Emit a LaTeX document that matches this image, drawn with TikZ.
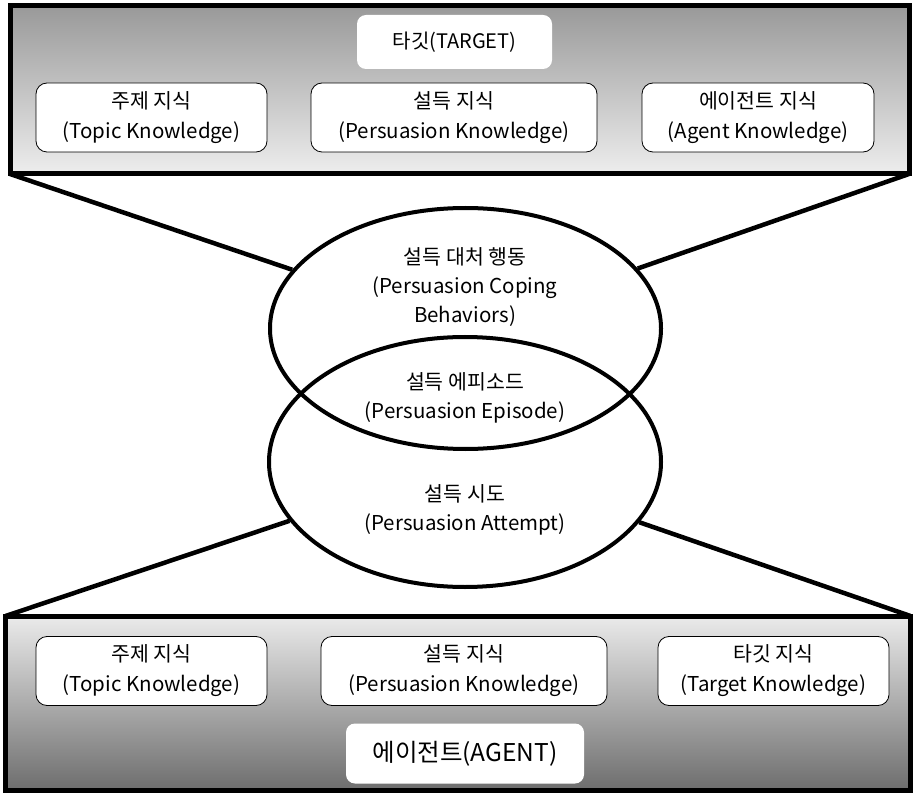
\documentclass[tikz,border=0pt]{standalone}
\usepackage{fontspec}
\setmainfont{Noto Sans CJK KR}
\usetikzlibrary{shapes.geometric}
\begin{document}
\begin{tikzpicture}[x=1pt,y=-1pt,
  panel/.style={draw=black,line width=5pt,rectangle,inner sep=0pt,outer sep=0pt},
  kbox/.style={draw=black,line width=0.8pt,fill=white,rounded corners=11pt,minimum height=69pt,align=center,inner sep=0pt,font=\fontsize{20.5}{30}\selectfont},
  titlebox/.style={fill=white,rounded corners=9pt,align=center,inner sep=0pt},
  oval/.style={draw=black,line width=4pt,ellipse,inner sep=0pt},
  lbl/.style={align=center,inner sep=0pt,font=\fontsize{20.5}{29}\selectfont},
  conn/.style={draw=black,line width=4.5pt}]
\useasboundingbox (0,0) rectangle (916,794);
% panels
\node[panel,minimum width=899pt,minimum height=168pt,top color=black!40,bottom color=black!7] (topbox) at (459.5,90) {};
\node[panel,minimum width=905pt,minimum height=174pt,top color=black!8,bottom color=black!57] (botbox) at (458,703) {};
% ellipses
\node[oval,minimum width=391pt,minimum height=241pt] (upper) at (465.5,328.5) {};
\node[oval,minimum width=392pt,minimum height=250pt] (lower) at (465,462) {};
% connectors
\draw[conn] (topbox.south west) -- (upper);
\draw[conn] (topbox.south east) -- (upper);
\draw[conn] (botbox.north west) -- (lower);
\draw[conn] (botbox.north east) -- (lower);
% top panel contents
\node[titlebox,minimum width=195pt,minimum height=54pt,font=\fontsize{20}{24}\selectfont] (target) at (454.5,42) {타깃(TARGET)};
\node[kbox,minimum width=231pt] (t1) at (151.5,117.5) {주제 지식\\(Topic Knowledge)};
\node[kbox,minimum width=286pt] (t2) at (454,117.5) {설득 지식\\(Persuasion Knowledge)};
\node[kbox,minimum width=232pt] (t3) at (758,117.5) {에이전트 지식\\(Agent Knowledge)};
% bottom panel contents
\node[kbox,minimum width=231pt] (b1) at (151.5,671) {주제 지식\\(Topic Knowledge)};
\node[kbox,minimum width=286pt] (b2) at (464,671) {설득 지식\\(Persuasion Knowledge)};
\node[kbox,minimum width=231pt] (b3) at (773.5,671) {타깃 지식\\(Target Knowledge)};
\node[titlebox,minimum width=238pt,minimum height=60pt,font=\fontsize{24.5}{28}\selectfont] (agent) at (465,753.5) {에이전트(AGENT)};
% ellipse labels
\node[lbl] (coping) at (465,287) {설득 대처 행동\\(Persuasion Coping\\Behaviors)};
\node[lbl] (episode) at (465,398) {설득 에피소드\\(Persuasion Episode)};
\node[lbl] (attempt) at (465,510) {설득 시도\\(Persuasion Attempt)};
\end{tikzpicture}
\end{document}
